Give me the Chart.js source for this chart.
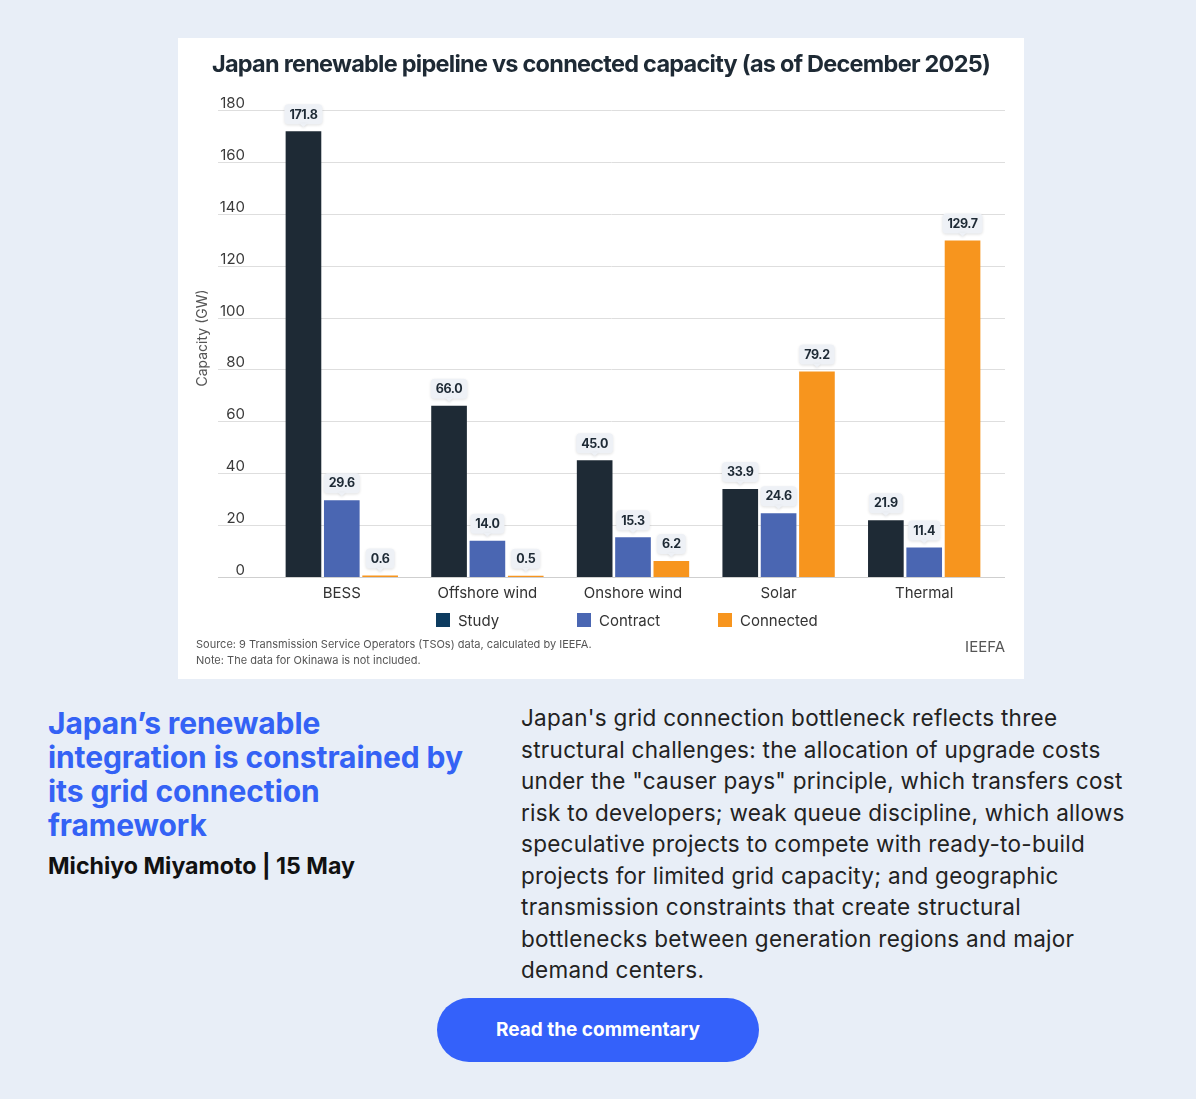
<!DOCTYPE html>
<html>
<head>
<meta charset="utf-8">
<script src="https://cdn.jsdelivr.net/npm/chart.js@4.4.1/dist/chart.umd.min.js"></script>
<style>
  html, body { margin: 0; padding: 0; }
  body { width: 1196px; height: 1099px; background: #e8eef7; position: relative; overflow: hidden; font-family: Inter, 'Noto Sans', sans-serif; }
  #card { position: absolute; left: 178px; top: 38px; width: 846px; height: 641px; background: #fff; }
  #card canvas { display: block; }
  #heading { position: absolute; left: 48px; top: 706px; margin: 0; font-size: 30px; line-height: 34px; font-weight: 700; color: #3462f5; letter-spacing: -0.1px; }
  #author { position: absolute; left: 48px; top: 851px; margin: 0; font-size: 23.2px; line-height: 30px; font-weight: 700; color: #111; }
  #text { position: absolute; left: 521px; top: 702px; margin: 0; font-size: 22.5px; line-height: 31.5px; color: #222; white-space: nowrap; letter-spacing: 0.28px; }
  #btn { position: absolute; left: 437px; top: 998px; width: 322px; height: 64px; border-radius: 32px; background: #3461fa; color: #fff; font-weight: 700; font-size: 19px; line-height: 64px; text-align: center; }
</style>
</head>
<body>
<div id="card"><canvas id="Grafico" width="846" height="641"></canvas></div>

<h2 id="heading">Japan’s renewable<br>integration is constrained by<br>its grid connection<br>framework</h2>
<p id="author">Michiyo Miyamoto | 15 May</p>
<p id="text">Japan's grid connection bottleneck reflects three<br>structural challenges: the allocation of upgrade costs<br>under the "causer pays" principle, which transfers cost<br>risk to developers; weak queue discipline, which allows<br>speculative projects to compete with ready-to-build<br>projects for limited grid capacity; and geographic<br>transmission constraints that create structural<br>bottlenecks between generation regions and major<br>demand centers.</p>
<div id="btn">Read the commentary</div>

<script>
// Dados do gráfico (GW)
const categorias = ['BESS', 'Offshore wind', 'Onshore wind', 'Solar', 'Thermal'];
const study = [171.8, 66.0, 45.0, 33.9, 21.9];
const contract = [29.6, 14.0, 15.3, 24.6, 11.4];
const connected = [0.6, 0.5, 6.2, 79.2, 129.7];
const yTicks = [0, 20, 40, 60, 80, 100, 120, 140, 160, 180];

const cores = { study: '#1e2a35', contract: '#4a66b2', connected: '#f7951e' };
const coresLegenda = ['#0d3b5f', '#4a66b2', '#f7951e'];
const FONTE = 'Inter, "Noto Sans", sans-serif';

// Plugin para grade, rótulos, legenda e notas
const decor = {
    id: 'decor',
    beforeDatasetsDraw(chart) {
        const { ctx } = chart;
        const y = chart.scales.y;
        ctx.save();
        yTicks.forEach(v => {
            const py = Math.round(y.getPixelForValue(v)) + 0.5;
            ctx.strokeStyle = v === 0 ? '#cfcfcf' : '#dedede';
            ctx.lineWidth = 1;
            ctx.beginPath();
            ctx.moveTo(40, py);
            ctx.lineTo(827, py);
            ctx.stroke();
            ctx.fillStyle = '#3a3a3a';
            ctx.font = '15px ' + FONTE;
            ctx.textAlign = 'right';
            ctx.textBaseline = 'middle';
            ctx.fillText(String(v), 67, py - 7.5);
        });
        ctx.restore();
    },
    afterDatasetsDraw(chart) {
        const { ctx } = chart;
        ctx.save();
        ctx.font = 'bold 12.5px ' + FONTE;
        ctx.letterSpacing = '-0.4px';
        ctx.textAlign = 'center';
        ctx.textBaseline = 'middle';
        chart.data.datasets.forEach((ds, i) => {
            chart.getDatasetMeta(i).data.forEach((bar, j) => {
                const txt = ds.data[j].toFixed(1);
                const w = ctx.measureText(txt).width + 10;
                const h = 20;
                const cx = bar.x;
                const cy = bar.y - 17;
                ctx.save();
                ctx.shadowColor = 'rgba(0,0,0,0.12)';
                ctx.shadowBlur = 3;
                ctx.shadowOffsetY = 1;
                ctx.fillStyle = '#eef1f6';
                ctx.beginPath();
                ctx.roundRect(cx - w / 2, cy - h / 2, w, h, 4);
                ctx.fill();
                ctx.beginPath();
                ctx.moveTo(cx - 4, cy + h / 2 - 1);
                ctx.lineTo(cx, cy + h / 2 + 3);
                ctx.lineTo(cx + 4, cy + h / 2 - 1);
                ctx.fill();
                ctx.restore();
                ctx.fillStyle = '#1e2a35';
                ctx.fillText(txt, cx, cy + 0.5);
            });
        });
        ctx.restore();
    },
    afterDraw(chart) {
        const { ctx } = chart;
        ctx.save();
        // Título
        ctx.fillStyle = '#1e2a35';
        ctx.font = 'bold 23.5px ' + FONTE;
        ctx.letterSpacing = '-0.75px';
        ctx.textAlign = 'center';
        ctx.textBaseline = 'middle';
        ctx.fillText('Japan renewable pipeline vs connected capacity (as of December 2025)', 423, 27);
        ctx.letterSpacing = '0px';
        // Título do eixo Y
        ctx.save();
        ctx.translate(25, 300);
        ctx.rotate(-Math.PI / 2);
        ctx.fillStyle = '#555';
        ctx.font = '14px ' + FONTE;
        ctx.fillText('Capacity (GW)', 0, 0);
        ctx.restore();
        // Legenda
        const nomes = chart.data.datasets.map(d => d.label);
        const xs = [258, 399, 540];
        ctx.font = '15px ' + FONTE;
        ctx.textAlign = 'left';
        nomes.forEach((n, i) => {
            ctx.fillStyle = coresLegenda[i];
            ctx.fillRect(xs[i], 575, 14, 14);
            ctx.fillStyle = '#333';
            ctx.fillText(n, xs[i] + 22, 583);
        });
        // Fonte e nota
        ctx.fillStyle = '#555';
        ctx.font = '11px ' + FONTE;
        ctx.fillText('Source: 9 Transmission Service Operators (TSOs) data, calculated by IEEFA.', 18, 607);
        ctx.fillText('Note: The data for Okinawa is not included.', 18, 623);
        ctx.font = '15px ' + FONTE;
        ctx.textAlign = 'right';
        ctx.fillText('IEEFA', 827, 609);
        ctx.restore();
    }
};

document.addEventListener('DOMContentLoaded', function() {
    const ctx = document.getElementById('Grafico').getContext('2d');

    const data = {
        labels: categorias,
        datasets: [
            { label: 'Study', data: study, backgroundColor: cores.study },
            { label: 'Contract', data: contract, backgroundColor: cores.contract },
            { label: 'Connected', data: connected, backgroundColor: cores.connected }
        ]
    };

    const options = {
        responsive: false,
        animation: false,
        layout: { padding: { left: 91, right: 27, top: 72, bottom: 76 } },
        datasets: { bar: { barPercentage: 0.93, categoryPercentage: 0.79 } },
        plugins: {
            legend: { display: false },
            tooltip: { enabled: false }
        },
        scales: {
            x: {
                grid: { display: false, drawTicks: false },
                border: { display: false },
                ticks: { color: '#333', font: { family: FONTE, size: 15 }, padding: 7 },
                afterFit(s) { s.height = 26; }
            },
            y: {
                min: 0,
                max: 180,
                ticks: { display: false, stepSize: 20 },
                grid: { display: false },
                border: { display: false },
                afterFit(s) { s.width = 0; }
            }
        }
    };

    new Chart(ctx, {
        type: 'bar',
        data: data,
        options: options,
        plugins: [decor]
    });
});
</script>
</body>
</html>
